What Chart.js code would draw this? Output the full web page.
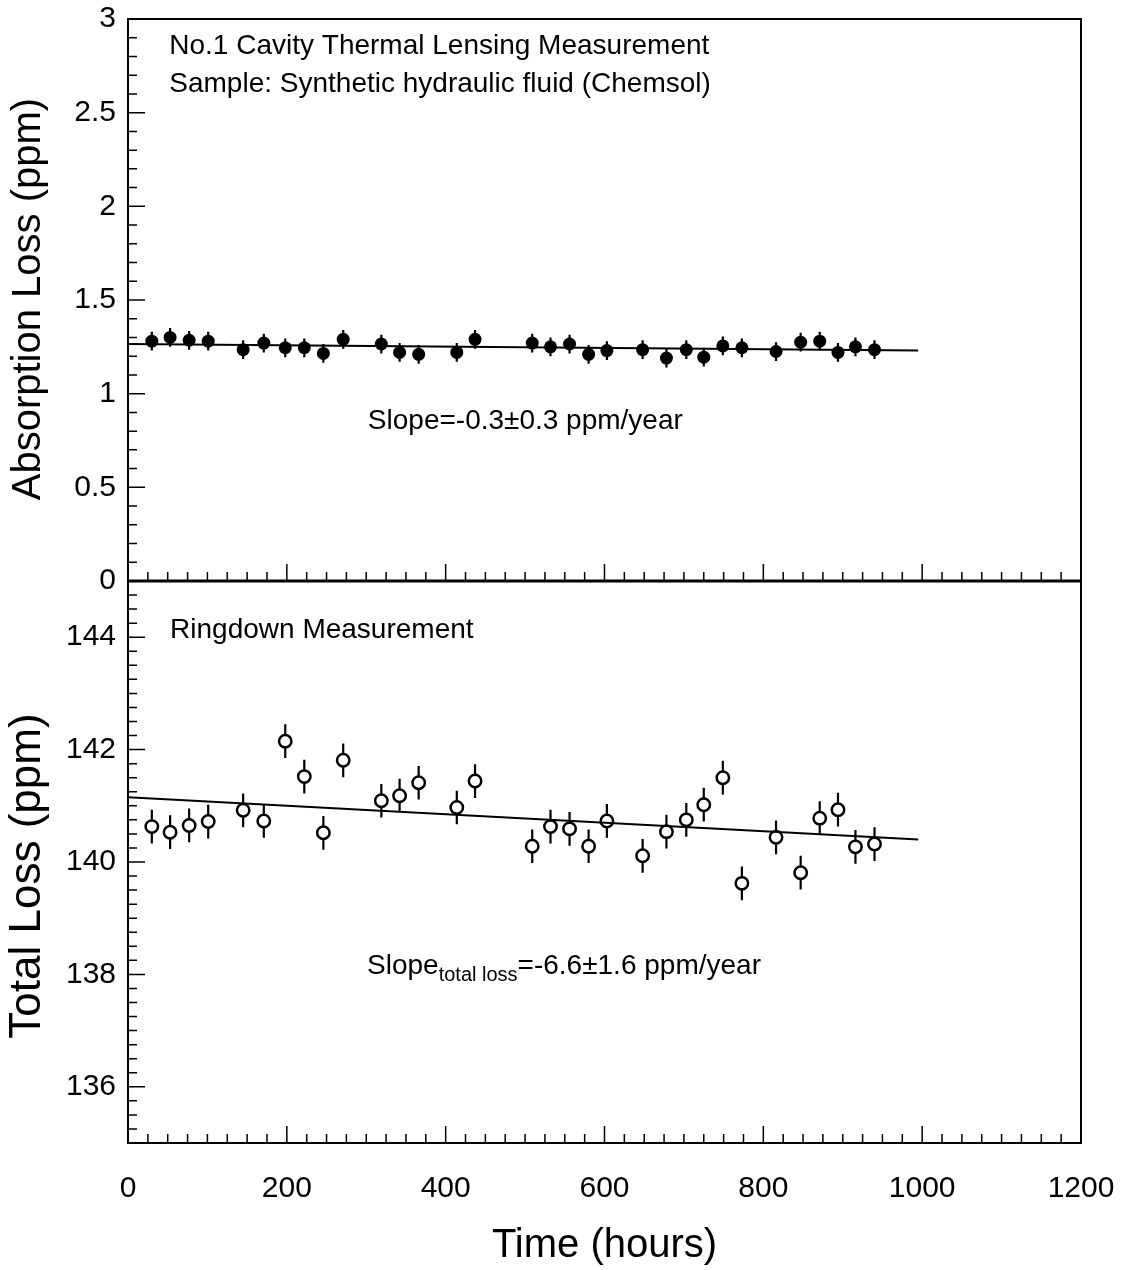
<!DOCTYPE html>
<html>
<head>
<meta charset="utf-8">
<title>Absorption and total loss vs time</title>
<script src="https://cdn.jsdelivr.net/npm/chart.js@4.4.1/dist/chart.umd.min.js"></script>
<style>
  html, body { margin: 0; padding: 0; background: #fff; }
  #chart { display: block; }
</style>
</head>
<body>
<canvas id="chart" width="1125" height="1270"></canvas>
<script>
// measurement times (hours)
const hours = [30, 53, 77, 101, 145, 171, 198, 222, 246, 271, 319, 342, 366, 414, 437, 509,
  532, 556, 580, 603, 648, 678, 703, 725, 749, 773, 816, 847, 871, 894, 916, 940];

// thermal lensing: absorption loss (ppm)
const absorptionLoss = [1.28, 1.30, 1.285, 1.28, 1.235, 1.27, 1.245, 1.245, 1.215, 1.29, 1.265, 1.22,
  1.21, 1.22, 1.29, 1.27, 1.25, 1.265, 1.21, 1.23, 1.235, 1.19, 1.235, 1.195, 1.255, 1.245,
  1.225, 1.275, 1.28, 1.22, 1.25, 1.235];
const absorptionErr = 0.05;

// ringdown: total loss (ppm)
const totalLoss = [140.63, 140.53, 140.65, 140.72, 140.92, 140.73, 142.15, 141.52, 140.52, 141.81,
  141.09, 141.18, 141.41, 140.97, 141.44, 140.28, 140.63, 140.59, 140.28, 140.73, 140.11, 140.54,
  140.75, 141.02, 141.50, 139.62, 140.44, 139.81, 140.78, 140.93, 140.27, 140.32];
const totalErr = 0.3;

// straight-line fits, value at each end of the fit range
const fitHours = [0, 995];
const absorptionFit = [1.265, 1.231];
const totalFit = [141.15, 140.40];

const timeTicks = [0, 200, 400, 600, 800, 1000, 1200];
const absorptionTicks = [0, 0.5, 1, 1.5, 2, 2.5, 3];
const totalTicks = [136, 138, 140, 142, 144];

const FONT = "'Liberation Sans', Arial, Helvetica, sans-serif";

const toPoints = (xs, ys) => xs.map((x, i) => ({ x, y: ys[i] }));
const fixedTicks = values => scale => { scale.ticks = values.map(v => ({ value: v })); };

// vertical error bars, drawn under the markers
const errorBars = {
  id: "errorBars",
  beforeDatasetsDraw(chart) {
    const { ctx, scales: { x, yAbs, yTot } } = chart;
    ctx.save();
    ctx.strokeStyle = "#000";
    ctx.lineWidth = 2.2;
    ctx.beginPath();
    hours.forEach((h, i) => {
      const px = x.getPixelForValue(h);
      ctx.moveTo(px, yAbs.getPixelForValue(absorptionLoss[i] - absorptionErr));
      ctx.lineTo(px, yAbs.getPixelForValue(absorptionLoss[i] + absorptionErr));
      ctx.moveTo(px, yTot.getPixelForValue(totalLoss[i] - totalErr));
      ctx.lineTo(px, yTot.getPixelForValue(totalLoss[i] + totalErr));
    });
    ctx.stroke();
    ctx.restore();
  }
};

// boxed frames with inward tick marks
const frame = {
  id: "frame",
  afterDraw(chart) {
    const { ctx, chartArea: a, scales: { x, yAbs, yTot } } = chart;
    const mid = yAbs.getPixelForValue(0);
    ctx.save();
    ctx.strokeStyle = "#000";
    ctx.lineWidth = 1.5;
    ctx.beginPath();
    for (let i = 0; i <= 48; i++) {
      const len = i % 8 === 0 ? 17 : 9;
      const px = x.getPixelForValue(i * 25);
      ctx.moveTo(px, mid); ctx.lineTo(px, mid - len);
      ctx.moveTo(px, a.bottom); ctx.lineTo(px, a.bottom - len);
    }
    for (let i = 0; i <= 30; i++) {
      const len = i % 5 === 0 ? 17 : 9;
      const py = yAbs.getPixelForValue(i / 10);
      ctx.moveTo(a.left, py); ctx.lineTo(a.left + len, py);
    }
    for (let i = 0; i <= 40; i++) {
      const len = i % 8 === 4 ? 17 : 9;
      const py = yTot.getPixelForValue(135 + i * 0.25);
      ctx.moveTo(a.left, py); ctx.lineTo(a.left + len, py);
    }
    ctx.stroke();
    ctx.lineWidth = 2;
    ctx.strokeRect(a.left, a.top, a.right - a.left, a.bottom - a.top);
    ctx.lineWidth = 2.8;
    ctx.beginPath();
    ctx.moveTo(a.left, mid);
    ctx.lineTo(a.right, mid);
    ctx.stroke();
    ctx.restore();
  }
};

// rotated text centred on (cx, cy), reading bottom to top
function verticalTitle(ctx, text, cx, cy, size) {
  ctx.save();
  ctx.translate(cx, cy);
  ctx.rotate(-Math.PI / 2);
  ctx.font = `${size}px ${FONT}`;
  ctx.textAlign = "center";
  ctx.textBaseline = "middle";
  ctx.fillText(text, 0, 0);
  ctx.restore();
}

// axis titles of the two panels and the text notes inside them
const notes = {
  id: "notes",
  afterDraw(chart) {
    const { ctx, scales: { x, yAbs, yTot } } = chart;
    const big = `28px ${FONT}`;
    ctx.save();
    ctx.fillStyle = "#000";
    verticalTitle(ctx, "Absorption Loss (ppm)", 29, yAbs.getPixelForValue(1.505), 40);
    verticalTitle(ctx, "Total Loss (ppm)", 28, yTot.getPixelForValue(139.75), 44);

    ctx.textAlign = "left";
    ctx.textBaseline = "middle";
    ctx.font = big;
    ctx.fillText("No.1 Cavity Thermal Lensing Measurement", x.getPixelForValue(52), yAbs.getPixelForValue(2.855));
    ctx.fillText("Sample: Synthetic hydraulic fluid (Chemsol)", x.getPixelForValue(52), yAbs.getPixelForValue(2.65));
    ctx.fillText("Slope=-0.3\u00b10.3 ppm/year", x.getPixelForValue(302), yAbs.getPixelForValue(0.85));
    ctx.fillText("Ringdown Measurement", x.getPixelForValue(53), yTot.getPixelForValue(144.12));

    let px = x.getPixelForValue(301);
    const py = yTot.getPixelForValue(138.14);
    ctx.fillText("Slope", px, py);
    px += ctx.measureText("Slope").width;
    ctx.font = `20px ${FONT}`;
    ctx.fillText("total loss", px, py + 9);
    px += ctx.measureText("total loss").width;
    ctx.font = big;
    ctx.fillText("=-6.6\u00b11.6 ppm/year", px, py);
    ctx.restore();
  }
};

const tickFont = { family: FONT, size: 30 };

// y axes sit in one column, one panel each; the frame plugin draws their edges
const panelAxis = (min, max, ticks) => ({
  type: "linear",
  position: "left",
  stack: "panels",
  stackWeight: 1,
  min,
  max,
  afterBuildTicks: fixedTicks(ticks),
  afterFit: s => { s.width = 128; s.paddingTop = 0; s.paddingBottom = 0; },
  grid: { display: false, drawTicks: false },
  border: { display: false },
  ticks: { font: tickFont, color: "#000", padding: 12, autoSkip: false, callback: v => String(v) }
});

new Chart(document.getElementById("chart"), {
  type: "scatter",
  data: {
    datasets: [
      {
        label: "total loss fit",
        type: "line",
        data: toPoints(fitHours, totalFit),
        yAxisID: "yTot",
        borderColor: "#000",
        borderWidth: 2,
        pointRadius: 0
      },
      {
        label: "absorption fit",
        type: "line",
        data: toPoints(fitHours, absorptionFit),
        yAxisID: "yAbs",
        borderColor: "#000",
        borderWidth: 2,
        pointRadius: 0
      },
      {
        label: "Total loss",
        data: toPoints(hours, totalLoss),
        yAxisID: "yTot",
        pointStyle: "circle",
        pointRadius: 6.2,
        pointBackgroundColor: "#fff",
        pointBorderColor: "#000",
        pointBorderWidth: 2.5
      },
      {
        label: "Absorption loss",
        data: toPoints(hours, absorptionLoss),
        yAxisID: "yAbs",
        pointStyle: "circle",
        pointRadius: 6.5,
        pointBackgroundColor: "#000",
        pointBorderColor: "#000",
        pointBorderWidth: 0
      }
    ]
  },
  options: {
    responsive: false,
    animation: false,
    layout: { padding: { left: 0, right: 44, top: 19, bottom: 0 } },
    plugins: { legend: { display: false }, tooltip: { enabled: false } },
    scales: {
      x: {
        type: "linear",
        position: "bottom",
        min: 0,
        max: 1200,
        afterBuildTicks: fixedTicks(timeTicks),
        afterFit: s => { s.height = 127; s.paddingLeft = 0; s.paddingRight = 0; },
        grid: { display: false, drawTicks: false },
        border: { display: false },
        ticks: { font: tickFont, color: "#000", padding: 28, maxRotation: 0, autoSkip: false, callback: v => String(v) },
        title: { display: true, text: "Time (hours)", font: { family: FONT, size: 40 }, color: "#000", padding: { top: 0, bottom: 0 } }
      },
      yTot: panelAxis(135, 145, totalTicks),
      yAbs: panelAxis(0, 3, absorptionTicks)
    }
  },
  plugins: [errorBars, frame, notes]
});
</script>
</body>
</html>
